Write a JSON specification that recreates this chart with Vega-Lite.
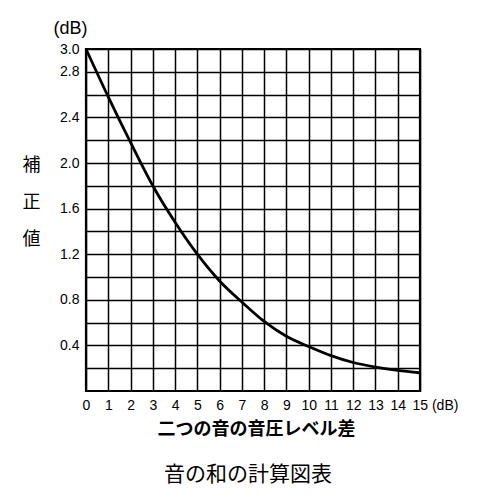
{
  "$schema": "https://vega.github.io/schema/vega-lite/v6.json",
  "width": 334,
  "height": 342,
  "autosize": "none",
  "padding": {"left": 86, "top": 49, "right": 80, "bottom": 106},
  "background": "white",
  "title": {
    "text": "音の和の計算図表",
    "orient": "bottom",
    "anchor": "middle",
    "frame": "group",
    "font": "Noto Sans CJK JP",
    "fontSize": 21,
    "fontWeight": "normal",
    "color": "black",
    "offset": 26,
    "dx": -5
  },
  "data": {
    "values": [
      {"level_diff": 0, "correction": 3.0},
      {"level_diff": 1, "correction": 2.58},
      {"level_diff": 2, "correction": 2.18},
      {"level_diff": 3, "correction": 1.8},
      {"level_diff": 4, "correction": 1.48},
      {"level_diff": 5, "correction": 1.2},
      {"level_diff": 6, "correction": 0.965},
      {"level_diff": 7, "correction": 0.78},
      {"level_diff": 8, "correction": 0.61},
      {"level_diff": 9, "correction": 0.48},
      {"level_diff": 10, "correction": 0.39},
      {"level_diff": 11, "correction": 0.31},
      {"level_diff": 12, "correction": 0.25},
      {"level_diff": 13, "correction": 0.21},
      {"level_diff": 14, "correction": 0.18},
      {"level_diff": 15, "correction": 0.16}
    ]
  },
  "encoding": {
    "x": {
      "field": "level_diff",
      "type": "quantitative",
      "scale": {"domain": [0, 15], "nice": false},
      "axis": {
        "values": [0, 1, 2, 3, 4, 5, 6, 7, 8, 9, 10, 11, 12, 13, 14, 15],
        "grid": true,
        "gridColor": "black",
        "gridWidth": 1.5,
        "gridOpacity": 1,
        "ticks": false,
        "domain": false,
        "labelFont": "Liberation Sans",
        "labelFontSize": 14,
        "labelColor": "black",
        "labelPadding": 7,
        "labelFlush": false,
        "labelOverlap": false,
        "labelExpr": "datum.value == 15 ? '15   (dB)' : datum.label",
        "labelAlign": {"condition": {"test": "datum.value == 15", "value": "left"}, "value": "center"},
        "labelOffset": {"condition": {"test": "datum.value == 15", "value": -8}, "value": 0},
        "title": "二つの音の音圧レベル差",
        "titleFont": "Noto Sans CJK JP",
        "titleFontSize": 18,
        "titleFontWeight": "bold",
        "titleColor": "black",
        "titleX": 170,
        "titleY": 38,
        "titleBaseline": "middle",
        "titleAlign": "center"
      }
    }
  },
  "layer": [
    {
      "mark": {"type": "line", "color": "black", "strokeWidth": 2.8, "interpolate": "monotone"},
      "encoding": {
        "y": {
          "field": "correction",
          "type": "quantitative",
          "scale": {"domain": [0, 3], "nice": false},
          "axis": {
            "values": [0.2, 0.4, 0.6, 0.8, 1.0, 1.2, 1.4, 1.6, 1.8, 2.0, 2.2, 2.4, 2.6, 2.8, 3.0],
            "grid": true,
            "gridColor": "black",
            "gridWidth": 1.5,
            "gridOpacity": 1,
            "ticks": false,
            "domain": false,
            "labelFont": "Liberation Sans",
            "labelFontSize": 14,
            "labelColor": "black",
            "labelPadding": 7,
            "labelFlush": false,
            "labelOverlap": false,
            "labelExpr": "round(datum.value * 10) % 4 == 0 || datum.value > 2.9 ? format(datum.value, '.1f') : ''",
            "title": "(dB)",
            "titleFont": "Liberation Sans",
            "titleFontSize": 18,
            "titleFontWeight": "normal",
            "titleColor": "black",
            "titleAngle": 0,
            "titleX": -33,
            "titleY": -21,
            "titleAlign": "left",
            "titleBaseline": "middle"
          }
        }
      }
    },
    {
      "mark": {"type": "line", "strokeOpacity": 0},
      "encoding": {
        "y": {
          "field": "correction",
          "type": "quantitative",
          "axis": {
            "orient": "left",
            "labels": false,
            "ticks": false,
            "domain": false,
            "grid": false,
            "title": ["補", "正", "値"],
            "titleFont": "Noto Sans CJK JP",
            "titleFontSize": 18,
            "titleFontWeight": "normal",
            "titleColor": "black",
            "titleAngle": 0,
            "titleX": -55,
            "titleY": 116,
            "titleAlign": "center",
            "titleBaseline": "middle",
            "titleLineHeight": 37
          }
        }
      }
    }
  ],
  "resolve": {"axis": {"y": "independent"}},
  "config": {"view": {"stroke": "black", "strokeWidth": 2.2}}
}
